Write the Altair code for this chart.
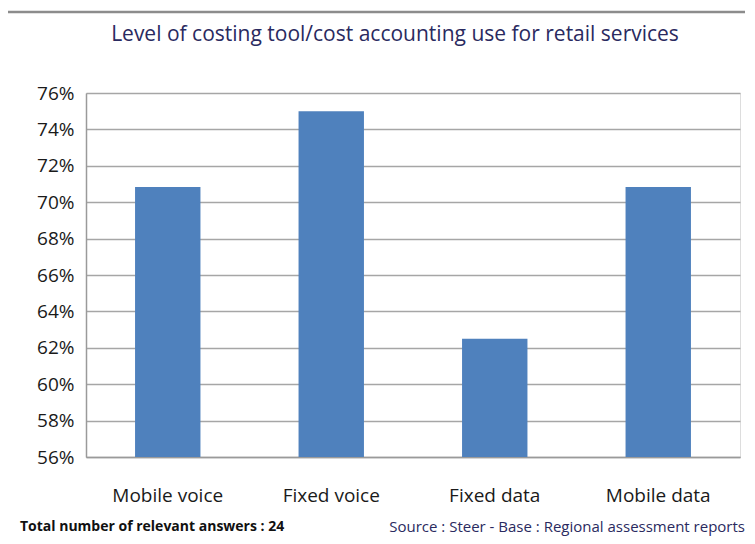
import altair as alt
import pandas as pd

categories = ["Mobile voice", "Fixed voice", "Fixed data", "Mobile data"]
values = [0.7083, 0.75, 0.625, 0.7083]
y_ticks = [0.56, 0.58, 0.60, 0.62, 0.64, 0.66, 0.68, 0.70, 0.72, 0.74, 0.76]
title_text = ["Level of costing tool/cost accounting use for retail services"]
footer_left = ["Total number of relevant answers : 24"]
footer_right = ["Source : Steer - Base : Regional assessment reports"]

FONT = "Open Sans, sans-serif"
W, H = 654, 364

df = pd.DataFrame({"cat": categories, "val": values})

bars = alt.Chart(df).mark_bar(color="#4F81BD", clip=True).encode(
    x=alt.X("cat:N", sort=categories,
            scale=alt.Scale(paddingInner=0.6, paddingOuter=0.3),
            axis=alt.Axis(title=None, labelAngle=0, ticks=False, labelPadding=29,
                          labelFontSize=19, labelFont=FONT, labelColor="#1a1a1a",
                          domainColor="#9a9a9a", domainWidth=1.5)),
    y=alt.Y("val:Q", scale=alt.Scale(domain=[0.56, 0.76], nice=False, zero=False),
            axis=alt.Axis(title=None, format=".0%", values=y_ticks, ticks=False,
                          labelPadding=12, labelFontSize=19, labelFont=FONT,
                          labelColor="#1a1a1a", grid=True, gridColor="#a6a6a6",
                          gridWidth=1.5, domainColor="#9a9a9a", domainWidth=1.5)),
)

title = alt.Chart(pd.DataFrame({"t": title_text})).mark_text(
    font=FONT, fontSize=21, color="#2a2a60", align="center", baseline="alphabetic"
).encode(text="t:N", x=alt.value(309), y=alt.value(-52))

fl = alt.Chart(pd.DataFrame({"t": footer_left})).mark_text(
    font=FONT, fontSize=14, fontWeight="bold", color="#111111", align="left",
    baseline="alphabetic"
).encode(text="t:N", x=alt.value(-66), y=alt.value(438))

fr = alt.Chart(pd.DataFrame({"t": footer_right})).mark_text(
    font=FONT, fontSize=15, color="#2a2a60", align="right", baseline="alphabetic"
).encode(text="t:N", x=alt.value(659), y=alt.value(439))

frame = alt.Chart(pd.DataFrame({"a": [0]})).mark_rect(
    fill=None, stroke="#8c8c8c", strokeWidth=2.5, clip=False
).encode(x=alt.value(-81), x2=alt.value(700), y=alt.value(-81), y2=alt.value(480))

chart = alt.layer(frame, bars, title, fl, fr).properties(
    width=W, height=H,
    autosize=alt.AutoSizeParams(type="none"),
    padding={"left": 78, "top": 85, "right": 5, "bottom": 80},
).configure_view(stroke=None).configure(background="white")

chart.save("out.html", embed_options={"renderer": "svg", "actions": False})
